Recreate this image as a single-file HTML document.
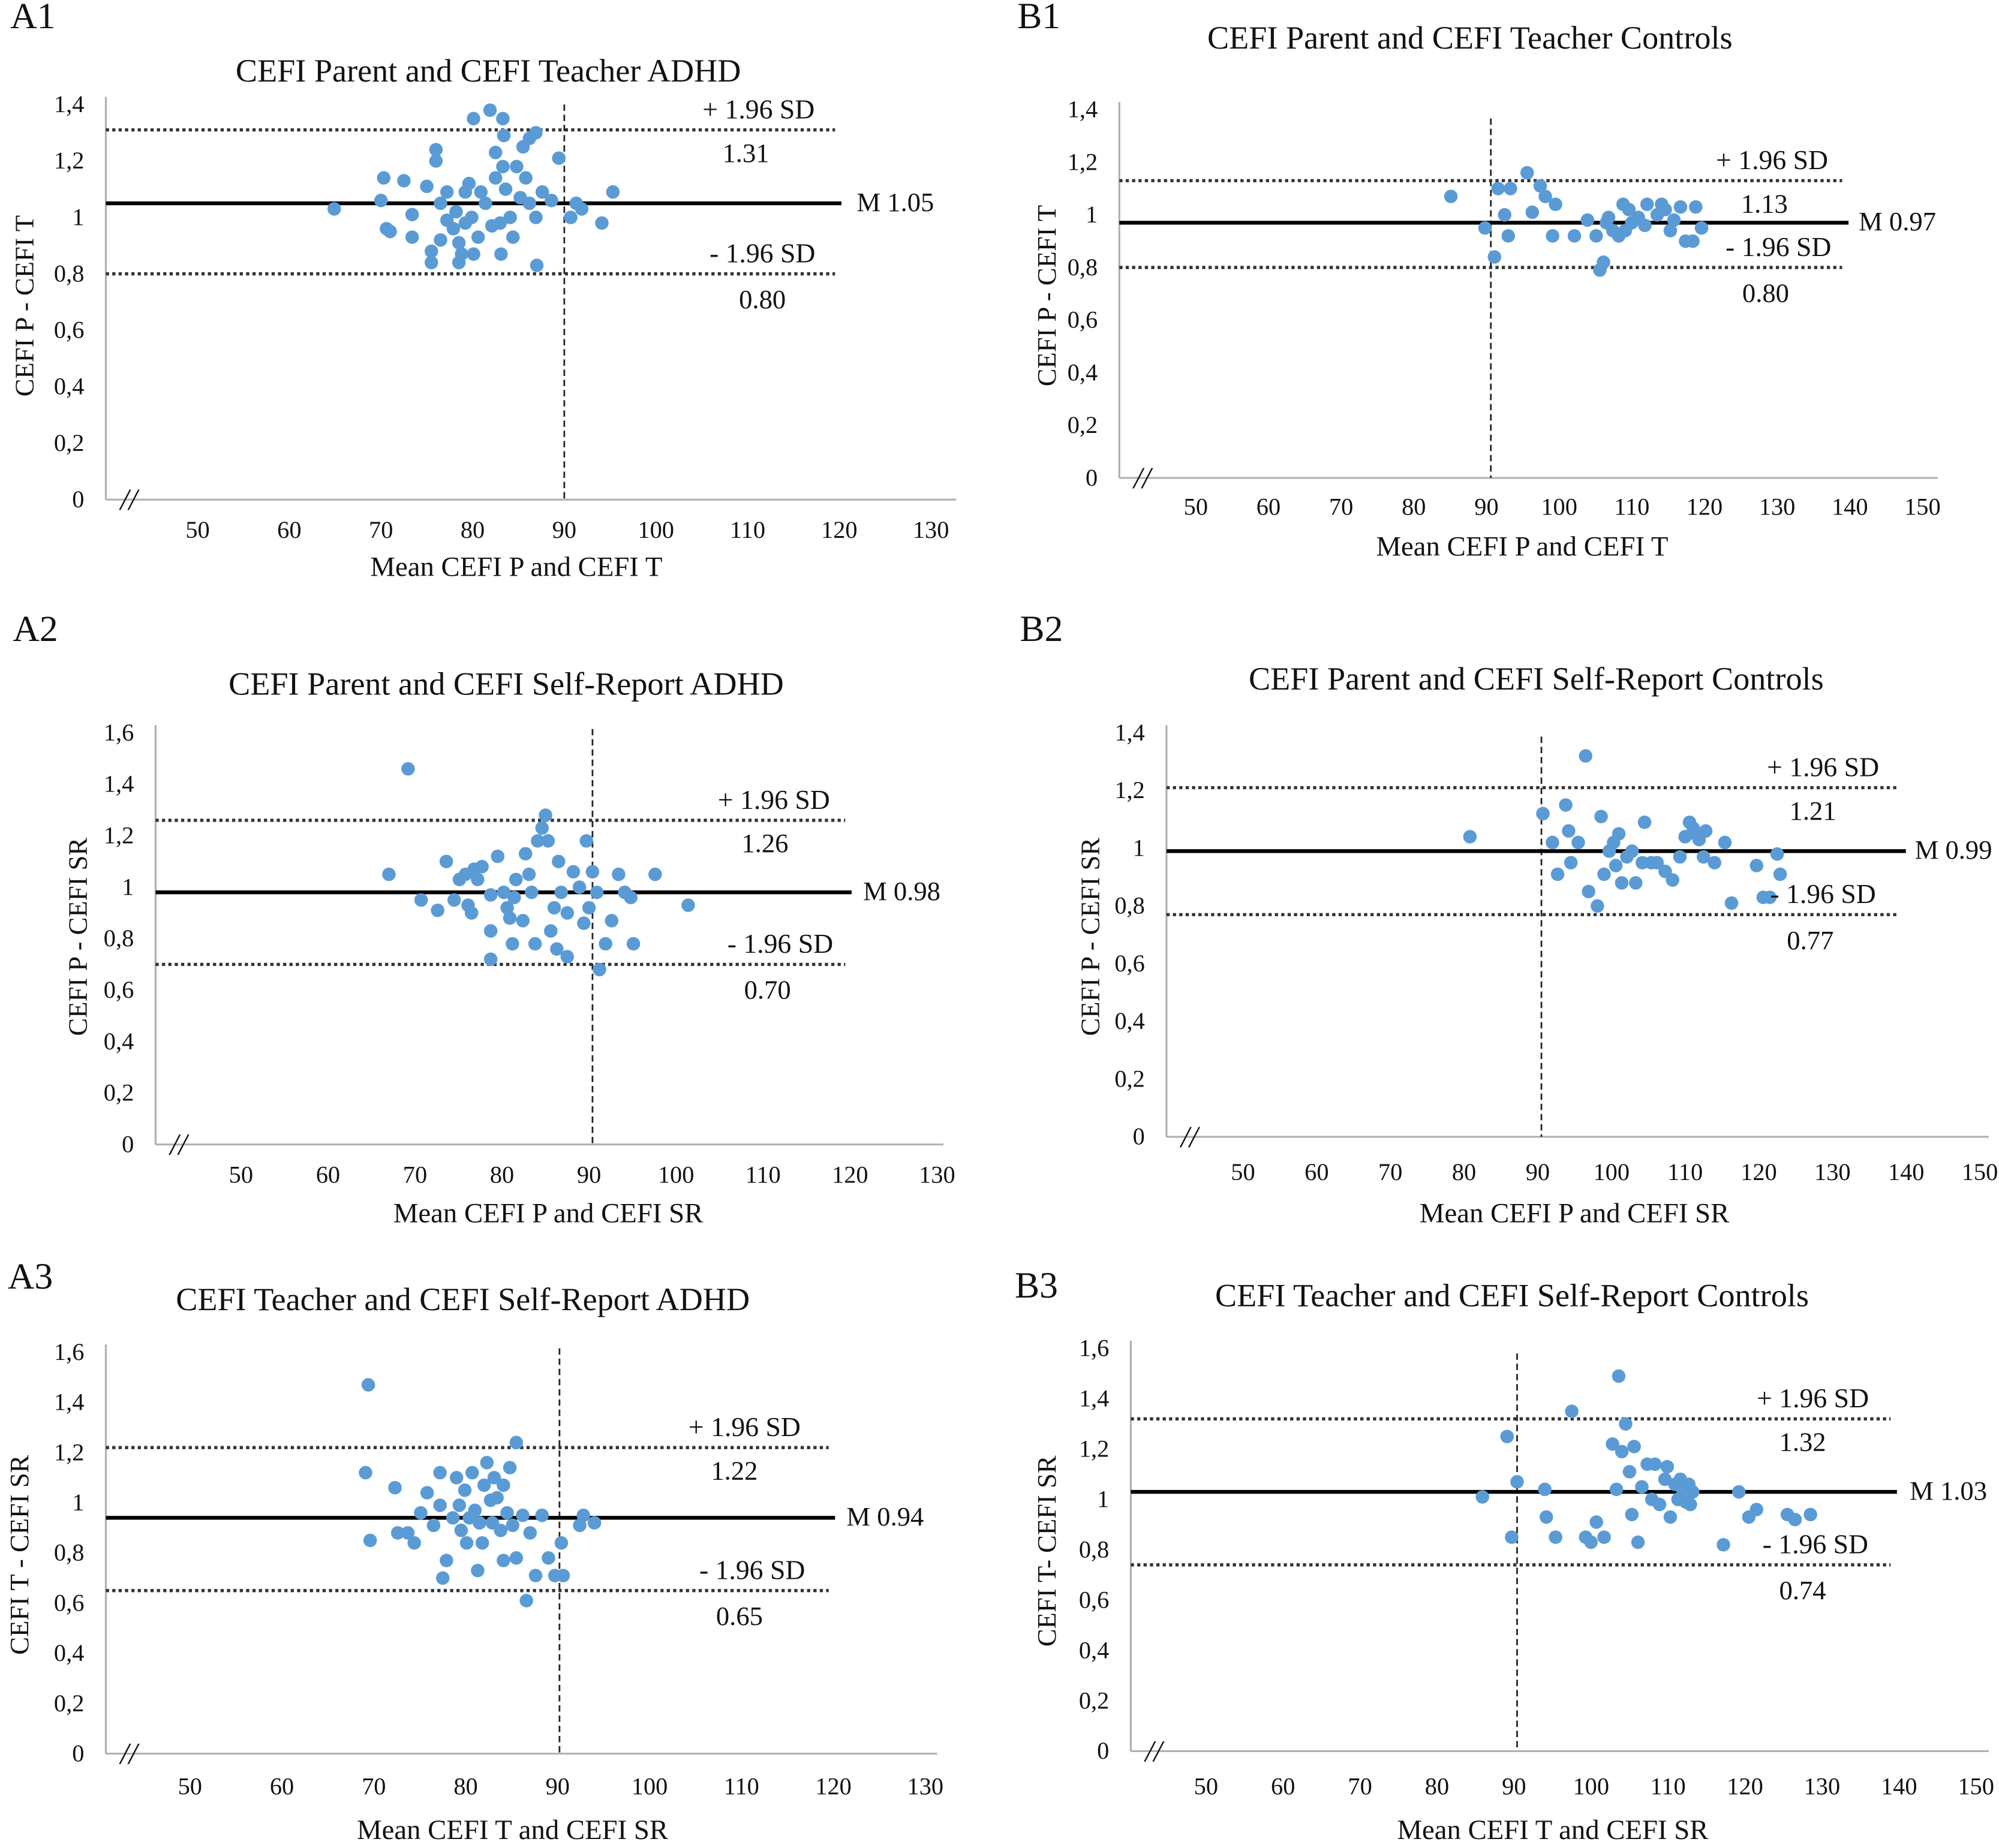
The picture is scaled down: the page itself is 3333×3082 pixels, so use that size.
<!DOCTYPE html>
<html><head><meta charset="utf-8"><style>
html,body{margin:0;padding:0;background:#fff;}
svg{display:block;}
text{font-family:"Liberation Serif",serif;fill:#111;}
</style></head><body>
<svg id="chart" xmlns="http://www.w3.org/2000/svg" width="3333" height="3082" viewBox="0 0 1568 1450"></svg>
<script>
// ---- data ----
const a1X=[64.9,70,70.3,72.5,70.6,71,73.4,73.4,75,76,76,75.5,75.5,76.5,77.2,77.9,78.2,78.8,78.5,79.2,79.6,79.9,80.1,81.9,83.3,83.4,81.4,82.1,83,84.1,84.8,85.5,86.2,86.9,85.2,86.2,86.9,83.1,87,89.4,88.6,90.7,91.3,91.9,94.1,95.3,82.5,83.6,80.6,78.5,77.2,76.5,83.3,80.9,82.5,84.4,85.8,87.6,79.2,80.1];
const a1Y=[1.03,1.06,1.14,1.13,0.96,0.95,1.01,0.93,1.11,1.24,1.2,0.88,0.84,1.05,1.09,0.96,1.02,0.87,0.84,1.09,1.12,1,1.35,1.38,1.35,1.29,1.05,0.97,0.98,1,1.18,1.25,1.28,1.3,1.07,1.05,1,0.87,0.83,1.21,1.06,1,1.05,1.03,0.98,1.09,1.14,1.1,0.93,0.91,0.99,0.92,1.18,1.09,1.23,0.93,1.14,1.09,0.98,0.87];
const a2X=[69.2,67,70.7,72.6,73.6,74.5,75.8,76.1,76.5,76.8,77.2,77.7,78.7,78.7,78.7,79.5,80.2,80.6,81.2,81.4,81.6,82.4,82.7,83.1,83.4,83.8,84.1,84.6,85,85.3,85.6,86,86.5,86.8,87.5,87.5,88.2,88.9,89.4,89.7,90,90.4,90.9,91.2,91.9,92.6,93.4,94.1,94.8,95.1,97.6,101.4,86.3,80.9,75.1];
const a2Y=[1.46,1.05,0.95,0.91,1.1,0.95,1.05,0.93,0.9,1.07,1.03,1.08,0.97,0.72,0.83,1.12,0.98,0.92,0.78,0.96,1.03,0.87,1.13,1.05,0.98,0.78,1.18,1.23,1.28,1.18,0.83,0.92,1.1,0.98,0.73,0.9,1.06,1,0.86,1.18,0.92,1.06,0.98,0.68,0.78,0.87,1.05,0.98,0.96,0.78,1.05,0.93,0.76,0.88,1.03];
const a3X=[69.4,69.1,69.6,72.3,72.6,73.7,74.4,75.1,75.8,76.5,77.2,77.5,77.9,78.6,79,79.3,79.5,79.9,80.4,80.7,81,81.3,81.8,82,82.3,82.7,82.9,83.1,83.4,83.8,84.1,84.5,84.8,85.1,85.5,85.5,86.2,86.6,87,87.6,88.3,89,89.7,90.4,90.6,92.4,92.8,94,81.5,80.1,77.2,84.1];
const a3Y=[1.47,1.12,0.85,1.06,0.88,0.88,0.84,0.96,1.04,0.91,1.12,0.7,0.77,0.94,1.1,0.99,0.89,1.05,0.94,1.12,0.97,0.73,0.84,1.07,1.16,1.01,0.92,1.1,1.02,0.89,0.77,0.96,1.14,0.91,1.24,0.78,0.95,0.61,0.88,0.71,0.95,0.78,0.71,0.84,0.71,0.91,0.95,0.92,0.92,0.84,0.99,1.07];
const b1X=[85.1,89.8,91.1,91.6,92.5,93,93.3,95.6,96.3,97.4,98.1,99.5,99.1,102.1,103.9,105.1,105.6,106.1,106.5,107.4,108.2,108.8,109.1,110,110.9,111.8,112.1,113.5,114.1,114.6,115.3,115.8,116.7,117.4,118.4,118.8,119.6,106.8,109.6];
const b1Y=[1.07,0.95,0.84,1.1,1,0.92,1.1,1.16,1.01,1.11,1.07,1.04,0.92,0.92,0.98,0.92,0.79,0.82,0.97,0.94,0.92,1.04,0.94,0.97,0.99,0.96,1.04,1,1.04,1.02,0.94,0.98,1.03,0.9,0.9,1.03,0.95,0.99,1.02];
const b2X=[80.8,90.7,92,92.7,93.8,94.5,95.5,96.5,96.9,98.1,98.6,99,99.7,100.3,101,101.4,102.1,102.8,103.3,104.2,104.5,105.4,106.2,107.3,108.3,109.3,110,110.6,111.1,111.4,111.9,112.5,112.8,114,115.4,116.3,119.7,120.6,121.5,122.5,122.9,94.2,100.6];
const b2Y=[1.04,1.12,1.02,0.91,1.15,0.95,1.02,1.32,0.85,0.8,1.11,0.91,0.99,1.02,1.05,0.88,0.97,0.99,0.88,0.95,1.09,0.95,0.95,0.92,0.89,0.97,1.04,1.09,1.07,1.05,1.03,0.97,1.06,0.95,1.02,0.81,0.94,0.83,0.83,0.98,0.91,1.06,0.94];
const b3X=[85.9,89.1,89.7,90.4,94,94.2,95.4,97.5,99.3,100,100.7,101.7,102.8,103.3,103.6,104,104.5,105,105.3,105.6,106.1,106.6,107.3,107.9,108.3,108.9,109.6,109.9,110.3,110.9,111.3,111.6,111.9,112.3,112.7,112.9,113.2,117.2,119.2,120.5,121.5,125.5,126.5,128.5];
const b3Y=[1.01,1.25,0.85,1.07,1.04,0.93,0.85,1.35,0.85,0.83,0.91,0.85,1.22,1.04,1.49,1.19,1.3,1.11,0.94,1.21,0.83,1.05,1.14,1,1.14,0.98,1.08,1.13,0.93,1.06,1,1.08,1.04,0.99,1.06,0.98,1.03,0.82,1.03,0.93,0.96,0.94,0.92,0.94];
const aXTicks=[50,60,70,80,90,100,110,120,130];
const bXTicks=[50,60,70,80,90,100,110,120,130,140,150];
const yTicks14=["0","0,2","0,4","0,6","0,8","1","1,2","1,4"];
const yTicks16=["0","0,2","0,4","0,6","0,8","1","1,2","1,4","1,6"];
const a1Stats=[1.05,1.31,0.80], a2Stats=[0.98,1.26,0.70], a3Stats=[0.94,1.22,0.65];
const b1Stats=[0.97,1.13,0.80], b2Stats=[0.99,1.21,0.77], b3Stats=[1.03,1.32,0.74];

const svg=document.getElementById('chart');
const NS='http://www.w3.org/2000/svg';
function mk(tag,attrs,parent){const e=document.createElementNS(NS,tag);for(const k in attrs)e.setAttribute(k,attrs[k]);(parent||svg).appendChild(e);return e;}
function txt(s,x,y,size,anchor,parent,extra){const t=mk('text',Object.assign({x:x,y:y,'font-size':size,'text-anchor':anchor||'start'},extra||{}),parent);t.textContent=s;return t;}
function fmt(v){return v.toFixed(2);}

const panels=[
 {id:'a1',lab:'A1',lx:8,ly:22,title:'CEFI Parent and CEFI Teacher ADHD',tx:383,ty:64,ax:83,y0:392,yTop:82,ymax:1.4,yt:yTicks14,xt:aXTicks,x50:155,dx:7.19,xend:750,xlabY:422,xtitle:'Mean CEFI P and CEFI T',xtX:405,xtY:452,ytitle:'CEFI  P - CEFI  T',ytX:26,ytY:240,lineEnd:660,mLX:672,upX:595,upLX:585,loX:598,loLX:598,vLineX:90,vTop:82,X:a1X,Y:a1Y,S:a1Stats},
 {id:'a2',lab:'A2',lx:10,ly:503,title:'CEFI Parent and CEFI Self-Report ADHD',tx:397,ty:545,ax:122,y0:898,yTop:575,ymax:1.6,yt:yTicks16,xt:aXTicks,x50:189,dx:6.825,xend:740,xlabY:928,xtitle:'Mean CEFI P and CEFI SR',xtX:430,xtY:959,ytitle:'CEFI  P - CEFI  SR',ytX:68,ytY:735,lineEnd:668,mLX:677,upX:607,upLX:600,loX:612,loLX:602,vLineX:90.4,vTop:572,X:a2X,Y:a2Y,S:a2Stats},
 {id:'a3',lab:'A3',lx:6,ly:1011,title:'CEFI Teacher  and CEFI Self-Report ADHD',tx:363,ty:1028,ax:83,y0:1376,yTop:1061,ymax:1.6,yt:yTicks16,xt:aXTicks,x50:149,dx:7.21,xend:735,xlabY:1408,xtitle:'Mean CEFI  T and CEFI  SR',xtX:402,xtY:1443,ytitle:'CEFI  T - CEFI  SR',ytX:22,ytY:1220,lineEnd:655,mLX:664,upX:584,upLX:576,loX:590,loLX:580,vLineX:90.2,vTop:1058,X:a3X,Y:a3Y,S:a3Stats},
 {id:'b1',lab:'B1',lx:798,ly:22,title:'CEFI Parent and CEFI Teacher  Controls',tx:1153,ty:38,ax:878,y0:375,yTop:86,ymax:1.4,yt:yTicks14,xt:bXTicks,x50:938,dx:5.7,xend:1520,xlabY:404,xtitle:'Mean CEFI  P and CEFI  T',xtX:1194,xtY:436,ytitle:'CEFI  P - CEFI  T',ytX:828,ytY:232,lineEnd:1450,mLX:1458,upX:1390,upLX:1384,loX:1395,loLX:1385,vLineX:90.6,vTop:93,X:b1X,Y:b1Y,S:b1Stats},
 {id:'b2',lab:'B2',lx:800,ly:503,title:'CEFI Parent and CEFI Self-Report  Controls',tx:1205,ty:541,ax:915,y0:892,yTop:575,ymax:1.4,yt:yTicks14,xt:bXTicks,x50:975,dx:5.78,xend:1560,xlabY:926,xtitle:'Mean CEFI  P and CEFI  SR',xtX:1235,xtY:959,ytitle:'CEFI  P - CEFI  SR',ytX:862,ytY:735,lineEnd:1495,mLX:1502,upX:1430,upLX:1422,loX:1430,loLX:1420,vLineX:90.5,vTop:578,X:b2X,Y:b2Y,S:b2Stats},
 {id:'b3',lab:'B3',lx:796,ly:1018,title:'CEFI Teacher  and CEFI Self-Report  Controls',tx:1186,ty:1025,ax:887,y0:1374,yTop:1058,ymax:1.6,yt:yTicks16,xt:bXTicks,x50:946,dx:6.04,xend:1560,xlabY:1408,xtitle:'Mean CEFI  T and CEFI  SR',xtX:1218,xtY:1443,ytitle:'CEFI  T- CEFI  SR',ytX:828,ytY:1217,lineEnd:1488,mLX:1498,upX:1422,upLX:1414,loX:1424,loLX:1414,vLineX:90.4,vTop:1062,X:b3X,Y:b3Y,S:b3Stats}
];

panels.forEach(p=>{
  const g=mk('g',{});
  
  
  const sx=v=>p.x50+(v-50)*p.dx;
  const sy=v=>p.y0-v*(p.y0-p.yTop)/p.ymax;
  const pl=txt(p.lab,p.lx,p.ly,29,'start',g);
  
  
  const tt=txt(p.title,p.tx,p.ty,25.5,'middle',g);
  
  
  const ya=mk('line',{x1:p.ax,y1:p.yTop-6,x2:p.ax,y2:p.y0,stroke:'#b0b0b0','stroke-width':1.5},g);
  
  
  const xa=mk('line',{x1:p.ax,y1:p.y0,x2:p.xend,y2:p.y0,stroke:'#b0b0b0','stroke-width':1.5},g);
  
  
  const br=txt('//',p.ax+18,p.y0+8,24,'middle',g,{'font-style':'italic'});
  
  
  p.yt.forEach((s,i)=>{
    const t=txt(s,p.ax-17,sy(i*0.2)+6,19,'end',g);
    
    
  });
  p.xt.forEach(v=>{
    const t=txt(String(v),sx(v),p.xlabY,19,'middle',g);
    
    
  });
  const xt=txt(p.xtitle,p.xtX,p.xtY,22,'middle',g);
  
  
  const yt=txt(p.ytitle,p.ytX,p.ytY,21,'middle',g,{transform:'rotate(-90 '+p.ytX+' '+p.ytY+')'});
  
  
  const vl=mk('line',{x1:sx(p.vLineX),y1:p.vTop,x2:sx(p.vLineX),y2:p.y0,stroke:'#222','stroke-width':1.3,'stroke-dasharray':'5,3'},g);
  
  
  const [m,u,l]=p.S;
  const ml=mk('line',{x1:p.ax,y1:sy(m),x2:p.lineEnd,y2:sy(m),stroke:'#000','stroke-width':3},g);
  
  
  const ul=mk('line',{x1:p.ax,y1:sy(u),x2:p.lineEnd-5,y2:sy(u),stroke:'#333','stroke-width':2.5,'stroke-dasharray':'2.5,2.5'},g);
  
  
  const ll=mk('line',{x1:p.ax,y1:sy(l),x2:p.lineEnd-5,y2:sy(l),stroke:'#333','stroke-width':2.5,'stroke-dasharray':'2.5,2.5'},g);
  
  
  p.X.forEach((xv,i)=>{
    const c=mk('circle',{cx:sx(xv),cy:sy(p.Y[i]),r:5.3,fill:'#5b9bd5'},g);
    
    
  });
  const mt=txt('M '+fmt(m),p.mLX,sy(m)+6,21,'start',g);
  
  
  const u1=txt('+ 1.96  SD',p.upX,sy(u)-9,21.5,'middle',g);
  
  
  const u2=txt(fmt(u),p.upLX,sy(u)+25,21,'middle',g);
  
  
  const l1=txt('- 1.96  SD',p.loX,sy(l)-9,21.5,'middle',g);
  
  
  const l2=txt(fmt(l),p.loLX,sy(l)+27,21,'middle',g);
  
  
});
</script>
</body></html>
